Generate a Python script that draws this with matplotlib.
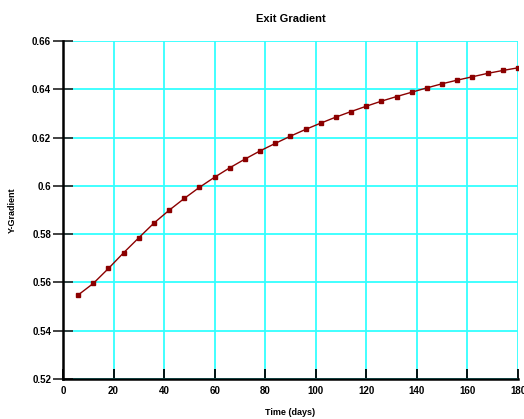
import matplotlib.pyplot as plt
import numpy as np

plt.rcParams['font.family'] = ['Liberation Sans', 'DejaVu Sans']

# exit gradient over time, sampled every 6 days
time_days = [6, 12, 18, 24, 30, 36, 42, 48, 54, 60, 66, 72, 78, 84, 90,
             96, 102, 108, 114, 120, 126, 132, 138, 144, 150, 156, 162, 168, 174, 180]
y_gradient = [0.5548, 0.5596, 0.5658, 0.5723, 0.5785, 0.5846, 0.5899, 0.5948,
              0.5994, 0.6036, 0.6075, 0.6111, 0.6145, 0.6176, 0.6206, 0.6234,
              0.6260, 0.6285, 0.6308, 0.6330, 0.6351, 0.6370, 0.6388, 0.6406,
              0.6423, 0.6438, 0.6452, 0.6466, 0.6478, 0.6489]
x_ticks = [0, 20, 40, 60, 80, 100, 120, 140, 160, 180]
y_ticks = [0.52, 0.54, 0.56, 0.58, 0.6, 0.62, 0.64, 0.66]
y_tick_labels = ['0.52', '0.54', '0.56', '0.58', '0.6', '0.62', '0.64', '0.66']

fig = plt.figure(figsize=(5.24, 4.19), dpi=100)
ax = fig.add_axes([0.1202, 0.0955, 0.8683, 0.8066])

ax.plot(time_days, y_gradient, color='#8b0000', linewidth=1.0,
        marker='s', markersize=3, zorder=3)

ax.set_xlim(0, 180)
ax.set_ylim(0.52, 0.66)
ax.set_xticks(x_ticks)
ax.set_yticks(y_ticks)
ax.set_yticklabels(y_tick_labels)

ax.grid(True, color='#33ffff', linewidth=1.3)
ax.set_axisbelow(True)

for side in ['top', 'right']:
    ax.spines[side].set_visible(False)
for side in ['left', 'bottom']:
    ax.spines[side].set_linewidth(1.8)
    ax.spines[side].set_color('black')
    ax.spines[side].set_zorder(4)

ax.tick_params(axis='x', direction='in', length=7, width=1.3, pad=5,
               labelsize=7)
ax.tick_params(axis='y', direction='inout', length=15, width=1.3, pad=1,
               labelsize=7, color='#333333')
for lbl in ax.get_xticklabels() + ax.get_yticklabels():
    lbl.set_fontweight('bold')

ax.set_title('Exit Gradient', fontsize=8, fontweight='bold', pad=14)
ax.set_xlabel('Time (days)', fontsize=6.5, fontweight='bold', labelpad=9)
ax.set_ylabel('Y-Gradient', fontsize=6.5, fontweight='bold', labelpad=11)

fig.savefig('out.png', dpi=100)
